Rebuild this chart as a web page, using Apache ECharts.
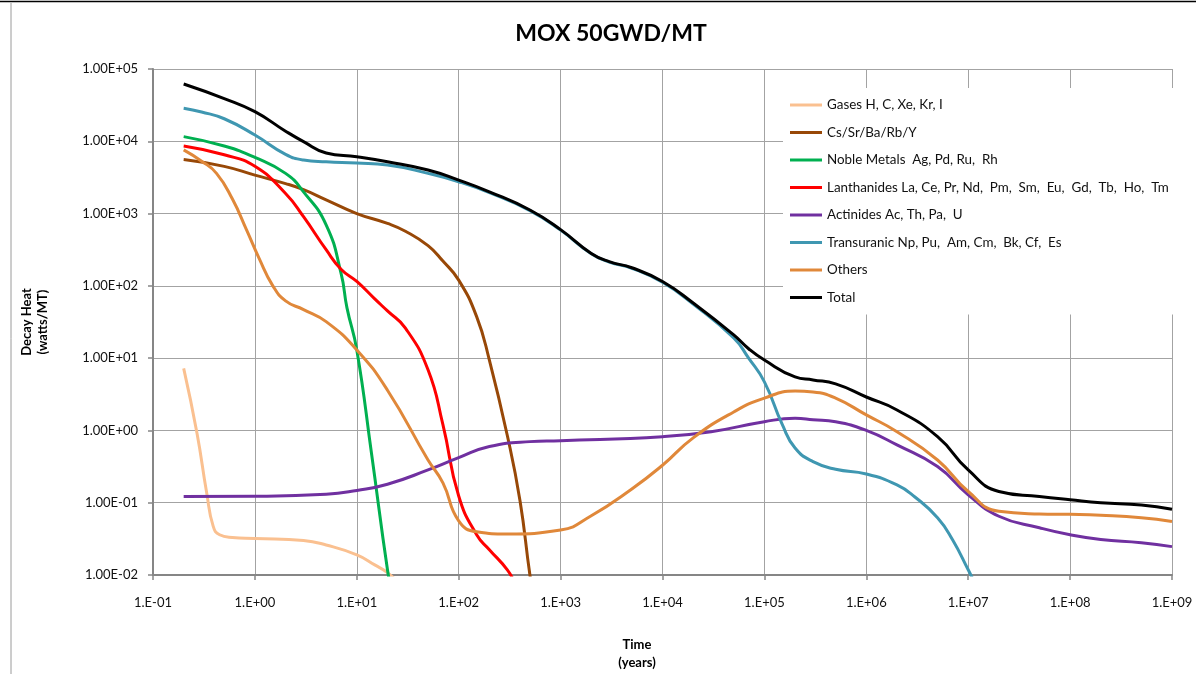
<!DOCTYPE html>
<html>
<head>
<meta charset="utf-8">
<script src="https://cdn.jsdelivr.net/npm/echarts@6/dist/echarts.min.js"></script>
<style>
html,body{margin:0;padding:0;background:#fff;}
#chart{width:1196px;height:674px;}
</style>
</head>
<body>
<div id="chart"></div>
<script>
// ---- data (time in years, decay heat in watts/MT) ----
const seriesNames = [
  'Gases H, C, Xe, Kr, I',
  'Cs/Sr/Ba/Rb/Y',
  'Noble Metals  Ag, Pd, Ru,  Rh',
  'Lanthanides La, Ce, Pr, Nd,  Pm,  Sm,  Eu,  Gd,  Tb,  Ho,  Tm',
  'Actinides Ac, Th, Pa,  U',
  'Transuranic Np, Pu,  Am, Cm,  Bk, Cf,  Es',
  'Others',
  'Total'
];
const seriesColors = ['#FAC090', '#984807', '#00B050', '#FF0000', '#7030A0', '#3F97B1', '#E0883A', '#000000'];

const gasesT = [0.2, 0.27, 0.336, 0.39, 0.45, 0.6, 1, 3, 5, 10, 15, 20, 25];
const gasesV = [7.2, 0.92, 0.138, 0.047, 0.036, 0.033, 0.032, 0.030, 0.026, 0.019, 0.0138, 0.0108, 0.008];

const csT = [0.2, 0.5, 1, 2, 3, 5, 10, 20, 30, 50, 70, 100, 150, 200, 300, 400, 500, 560];
const csV = [5600, 4500, 3400, 2600, 2140, 1550, 1000, 730, 570, 360, 220, 120, 37.5, 9.4, 0.85, 0.106, 0.01, 0.004];

const nobleT = [0.2, 0.5, 1, 2, 3, 5, 7, 8, 10, 14, 20, 22];
const nobleV = [11600, 8600, 6000, 3600, 2000, 700, 150, 50, 13, 0.46, 0.0118, 0.006];

const lanthT = [0.2, 0.5, 1, 2, 3, 5, 7, 10, 15, 20, 30, 50, 70, 100, 150, 200, 300, 350];
const lanthV = [8600, 6500, 4500, 1900, 905, 316, 170, 115, 66, 45, 26, 6.9, 1.2, 0.124, 0.036, 0.0224, 0.0118, 0.008];

const actT = [0.2, 1, 5, 10, 20, 50, 100, 200, 500, 1e3, 1e4, 3e4, 1e5, 2e5, 3e5, 5e5, 1e6, 2e6, 5e6, 1e7, 2e7, 5e7, 1e8, 2e8, 5e8, 1e9];
const actV = [0.122, 0.123, 0.131, 0.148, 0.18, 0.284, 0.42, 0.60, 0.70, 0.72, 0.82, 0.96, 1.32, 1.47, 1.41, 1.32, 1.0, 0.63, 0.316, 0.129, 0.065, 0.045, 0.036, 0.031, 0.028, 0.0247];

const truT = [0.2, 0.3, 0.5, 1, 2, 3, 5, 10, 20, 50, 100, 200, 500, 1e3, 2e3, 3e3, 5e3, 1e4, 2e4, 5e4, 7e4, 1e5, 1.5e5, 2e5, 3e5, 5e5, 1e6, 2e6, 3e6, 5e6, 7e6, 1e7, 1.2e7];
const truV = [28600, 25400, 20500, 12200, 6600, 5500, 5200, 5000, 4700, 3600, 2760, 1950, 1100, 590, 278, 213, 175, 112, 56, 19, 10, 4.7, 1.2, 0.57, 0.37, 0.29, 0.25, 0.176, 0.12, 0.062, 0.031, 0.0118, 0.007];

const othT = [0.2, 0.3, 0.42, 0.6, 0.83, 1.1, 1.5, 2, 3, 5, 10, 20, 50, 70, 100, 150, 300, 1e3, 2e3, 5e3, 1e4, 2e4, 5e4, 1e5, 2e5, 3e5, 5e5, 1e6, 2e6, 5e6, 1e7, 2e7, 5e7, 1e8, 2e8, 5e8, 1e9];
const othV = [7600, 5300, 3600, 1600, 590, 240, 100, 62, 47, 32, 13, 3.6, 0.39, 0.188, 0.056, 0.0397, 0.037, 0.042, 0.066, 0.155, 0.33, 0.79, 1.8, 2.8, 3.5, 3.4, 2.8, 1.64, 0.96, 0.39, 0.143, 0.076, 0.07, 0.069, 0.067, 0.062, 0.055];

const totT = [0.2, 0.5, 1, 2, 3, 5, 10, 20, 50, 100, 200, 500, 1e3, 2e3, 3e3, 5e3, 1e4, 2e4, 5e4, 7e4, 1e5, 2e5, 3e5, 5e5, 1e6, 2e6, 5e6, 1e7, 2e7, 5e7, 1e8, 2e8, 5e8, 1e9];
const totV = [62000, 39000, 25700, 13800, 9900, 6900, 6100, 5200, 4000, 2900, 2000, 1120, 600, 281, 216, 178, 115, 58, 21, 13.5, 9.4, 5.5, 5.0, 4.4, 2.9, 1.92, 0.82, 0.284, 0.143, 0.122, 0.11, 0.10, 0.093, 0.081];

const xTickLabels = ['1.E-01', '1.E+00', '1.E+01', '1.E+02', '1.E+03', '1.E+04', '1.E+05', '1.E+06', '1.E+07', '1.E+08', '1.E+09'];
const yTickLabels = ['1.00E-02', '1.00E-01', '1.00E+00', '1.00E+01', '1.00E+02', '1.00E+03', '1.00E+04', '1.00E+05'];

const seriesTimes = [gasesT, csT, nobleT, lanthT, actT, truT, othT, totT];
const seriesValues = [gasesV, csV, nobleV, lanthV, actV, truV, othV, totV];

const FONT = 'Lato, "Open Sans", "Liberation Sans", sans-serif';

const chart = echarts.init(document.getElementById('chart'), null, {renderer: 'canvas'});

const series = seriesNames.map((name, i) => ({
  name: name,
  type: 'line',
  data: seriesTimes[i].map((t, j) => [t, seriesValues[i][j]]),
  showSymbol: false,
  symbol: 'none',
  smooth: 0.5,
  clip: true,
  lineStyle: {color: seriesColors[i], width: 3},
  itemStyle: {color: seriesColors[i]},
  z: 2 + i,
  animation: false
}));

chart.setOption({
  animation: false,
  backgroundColor: '#ffffff',
  grid: {left: 153, right: 24, top: 69, bottom: 99, containLabel: false},
  xAxis: {
    type: 'log', logBase: 10, min: 0.1, max: 1e9, interval: 1,
    axisLine: {show: true, lineStyle: {color: '#868686', width: 2}},
    axisTick: {show: true, length: 5, lineStyle: {color: '#868686', width: 1.5}},
    splitLine: {show: true, lineStyle: {color: '#A3A3A3', width: 1}},
    minorTick: {show: false},
    axisLabel: {
      margin: 21, color: '#111', fontSize: 13, fontFamily: FONT,
      formatter: v => xTickLabels[Math.round(Math.log10(v)) + 1]
    }
  },
  yAxis: {
    type: 'log', logBase: 10, min: 0.01, max: 1e5, interval: 1,
    axisLine: {show: true, lineStyle: {color: '#868686', width: 2}},
    axisTick: {show: true, length: 5, lineStyle: {color: '#868686', width: 1.5}},
    splitLine: {show: true, lineStyle: {color: '#A3A3A3', width: 1}},
    axisLabel: {
      margin: 15, color: '#111', fontSize: 13, fontFamily: FONT,
      formatter: v => yTickLabels[Math.round(Math.log10(v)) + 2]
    },
    name: 'Decay Heat\n(watts/MT)',
    nameLocation: 'middle',
    nameGap: 102,
    nameRotate: 90,
    nameTextStyle: {fontWeight: 'bold', fontSize: 13, fontFamily: FONT, color: '#000', lineHeight: 16}
  },
  legend: {
    orient: 'vertical',
    left: 783, top: 88,
    padding: [10, 8, 10, 7],
    backgroundColor: '#ffffff',
    icon: 'rect',
    itemWidth: 32, itemHeight: 3,
    itemGap: 13.5,
    z: 50,
    selectedMode: false,
    textStyle: {fontSize: 13.4, fontFamily: FONT, color: '#111', lineHeight: 14, padding: [0, 0, 0, 0]},
    data: seriesNames
  },
  graphic: [
    {type: 'text', x: 611, y: 34, z: 100,
      style: {text: 'MOX 50GWD/MT', fill: '#000', font: 'bold 23px ' + FONT, align: 'center', verticalAlign: 'middle'}},
    {type: 'text', x: 637, y: 654, z: 100,
      style: {text: 'Time\n(years)', fill: '#000', font: 'bold 13px ' + FONT, align: 'center', verticalAlign: 'middle', lineHeight: 18}},
    {type: 'line', z: 100, shape: {x1: 11, y1: 3, x2: 11, y2: 674}, style: {stroke: '#9a9a9a', lineWidth: 1}},
    {type: 'line', z: 100, shape: {x1: 0, y1: 1.5, x2: 1196, y2: 1.5}, style: {stroke: '#000', lineWidth: 1.5}}
  ],
  series: series
});
</script>
</body>
</html>
